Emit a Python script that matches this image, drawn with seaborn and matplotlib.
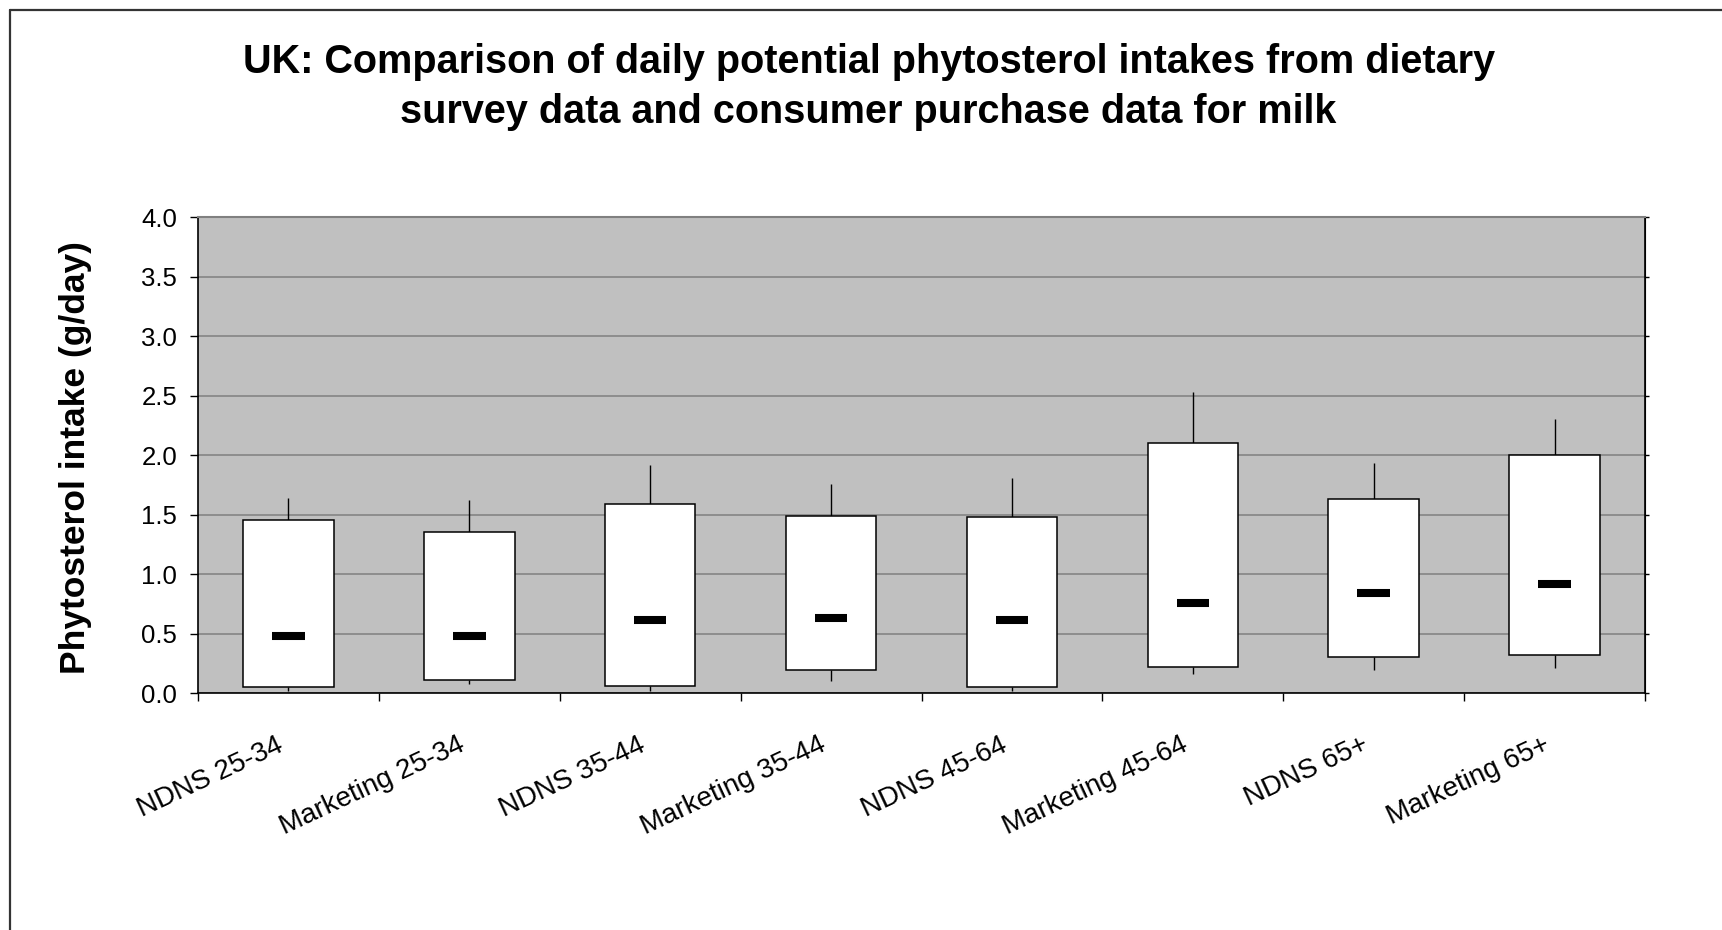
import numpy as np
import pandas as pd
import matplotlib
matplotlib.use('Agg')
import matplotlib.pyplot as plt
from matplotlib.lines import Line2D
from matplotlib.ticker import FormatStrFormatter
from matplotlib.transforms import ScaledTranslation
import seaborn as sns

groups = ['NDNS 25-34', 'Marketing 25-34', 'NDNS 35-44', 'Marketing 35-44',
          'NDNS 45-64', 'Marketing 45-64', 'NDNS 65+', 'Marketing 65+']
low_whisker = [0.02, 0.08, 0.02, 0.10, 0.02, 0.16, 0.19, 0.21]
box_low = [0.05, 0.11, 0.06, 0.19, 0.05, 0.22, 0.30, 0.32]
box_high = [1.45, 1.35, 1.59, 1.49, 1.48, 2.10, 1.63, 2.00]
high_whisker = [1.64, 1.62, 1.92, 1.76, 1.81, 2.53, 1.93, 2.30]
median = [0.48, 0.48, 0.61, 0.63, 0.61, 0.76, 0.84, 0.92]

df = pd.DataFrame({'group': groups, 'low': low_whisker, 'q1': box_low,
                   'q3': box_high, 'high': high_whisker, 'median': median})
df['span'] = df['q3'] - df['q1']

sns.set_style('white')
plt.rcParams['font.family'] = ['Liberation Sans', 'DejaVu Sans']
plt.rcParams['text.color'] = 'black'
plt.rcParams['axes.labelcolor'] = 'black'
plt.rcParams['xtick.color'] = 'black'
plt.rcParams['ytick.color'] = 'black'

fig = plt.figure(figsize=(17.22, 9.30), dpi=100)
ax = fig.add_axes([0.1150, 0.2548, 0.8403, 0.5118])
ax.set_facecolor('#C0C0C0')

ax.yaxis.grid(True, color='#808080', linewidth=1.1)
ax.set_axisbelow(True)

# white boxes from lower to upper value
sns.barplot(data=df, x='group', y='span', order=groups, bottom=df['q1'].to_numpy(),
            color='white', edgecolor='black', linewidth=1.1, width=0.5,
            errorbar=None, ax=ax, zorder=2)

xpos = np.arange(len(groups))
ax.vlines(xpos, df['q3'], df['high'], color='black', linewidth=1.0, zorder=1.5)
ax.vlines(xpos, df['low'], df['q1'], color='black', linewidth=1.0, zorder=1.5)
ax.hlines(df['median'], xpos - 0.09, xpos + 0.09, color='black', linewidth=5.8,
          capstyle='butt', zorder=3)

ax.set_xlim(-0.5, len(groups) - 0.5)
ax.set_ylim(0, 4.0)
ax.set_yticks(np.arange(0, 4.01, 0.5))
ax.yaxis.set_major_formatter(FormatStrFormatter('%.1f'))
ax.set_xlabel('')
ax.set_ylabel('')

for side in ['left', 'bottom', 'right']:
    ax.spines[side].set_color('black')
    ax.spines[side].set_linewidth(1.2)
ax.spines['top'].set_color('#808080')
ax.spines['top'].set_linewidth(1.5)

ax.tick_params(axis='y', which='major', direction='out', length=6, width=1,
               labelsize=18.5, pad=9, left=True)
ax.set_xticks(np.arange(-0.5, len(groups), 1.0), minor=True)
ax.tick_params(axis='x', which='minor', direction='out', length=6, width=1, bottom=True)
ax.tick_params(axis='x', which='major', length=0, labelsize=20, pad=28)
shift = ScaledTranslation(-0.12, 0, fig.dpi_scale_trans)
for lab in ax.get_xticklabels():
    lab.set_rotation(25)
    lab.set_ha('right')
    lab.set_va('top')
    lab.set_rotation_mode('anchor')
    lab.set_transform(lab.get_transform() + shift)

sec = ax.secondary_yaxis('right')
sec.set_yticks(np.arange(0, 4.01, 0.5))
sec.tick_params(axis='y', direction='out', length=3, width=1, labelright=False)
sec.spines['right'].set_color('black')

fig.text(0.5044, 0.9068,
         'UK: Comparison of daily potential phytosterol intakes from dietary\n'
         'survey data and consumer purchase data for milk',
         ha='center', va='center', fontsize=28.5, fontweight='bold', linespacing=1.41)
fig.text(0.0436, 0.5075, 'Phytosterol intake (g/day)', rotation=90,
         ha='center', va='center', fontsize=25.5, fontweight='bold')

fig.add_artist(Line2D([10 / 1722, 10 / 1722], [0, 1 - 10 / 930], transform=fig.transFigure,
                      color='#333333', linewidth=1.6))
fig.add_artist(Line2D([10 / 1722, 1], [1 - 10 / 930, 1 - 10 / 930], transform=fig.transFigure,
                      color='#333333', linewidth=1.6))

fig.savefig('out.png', dpi=100)
